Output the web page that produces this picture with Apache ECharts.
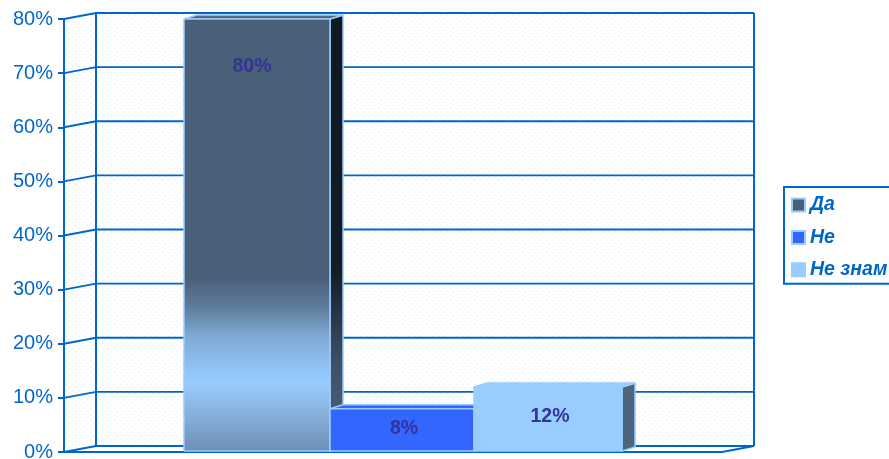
<!DOCTYPE html>
<html>
<head>
<meta charset="utf-8">
<style>html,body{margin:0;padding:0;background:#fff;overflow:hidden}#chart{width:889px;height:459px}</style>
<script src="https://cdn.jsdelivr.net/npm/echarts@6/dist/echarts.min.js"></script>
</head>
<body>
<div id="chart"></div>
<script>
// Survey answers, in percent
const categories = ['Да', 'Не', 'Не знам'];
const answerValues = [80, 8, 12];
const tickValues = [0, 10, 20, 30, 40, 50, 60, 70, 80];

// Layout of the pseudo-3D box (pixels)
const WALL_DX = 32, WALL_DY = -6;
const BAR_DX = 13, BAR_DY = -4;
const BAR_EDGES = [120, 266, 410, 558];     // bar edges measured from the axis
const LABEL_SHIFT = [[-5, null], [2, -1], [2, -2]];
const LINE = '#0066cc', RIM = '#99ccff';

// Pale dotted fill used on the walls
const dots = document.createElement('canvas');
dots.width = dots.height = 6;
const dc = dots.getContext('2d');
dc.fillStyle = '#fff'; dc.fillRect(0, 0, 6, 6);
dc.fillStyle = '#e2ebf5';
dc.fillRect(0, 0, 1, 1); dc.fillRect(3, 3, 1, 1);
const dotFill = { image: dots, repeat: 'repeat' };

const vGrad = (stops) => ({
  type: 'linear', x: 0, y: 0, x2: 0, y2: 1,
  colorStops: stops.map(([offset, color]) => ({ offset, color }))
});

const faces = [
  {
    front: vGrad([[0, '#4a5f78'], [0.6, '#4a5f78'], [0.67, '#5f7f9f'], [0.735, '#80aad6'],
                  [0.84, '#99ccff'], [0.92, '#85aed8'], [1, '#6d8fb5']]),
    top: '#55697f',
    side: vGrad([[0, '#10181f'], [0.58, '#131c24'], [0.8, '#3f5068'], [1, '#4d6680']]),
    legend: '#4a5f78', rim: RIM
  },
  { front: '#3366ff', top: '#3366ff', side: '#2a4fb8', legend: '#3366ff', rim: RIM },
  { front: '#99ccff', top: '#99ccff', side: '#4d6680', legend: '#99ccff', rim: RIM }
];

function poly(points, style) {
  return { type: 'polygon', shape: { points }, style };
}
function line(points, width) {
  return {
    type: 'polyline', shape: { points },
    style: { fill: null, stroke: LINE, lineWidth: width || 1.8 }
  };
}

// Walls, floor and receding gridlines
function renderFrame(params, api) {
  const v = api.value(0);
  const [x0, y] = api.coord([0, v]);
  const bandW = api.size([1, 0])[0];
  const left = x0 - bandW / 2, right = left + bandW;
  const children = [];
  if (params.dataIndex === 0) {
    const top = api.coord([0, tickValues[tickValues.length - 1]])[1];
    const bl = [left + WALL_DX, top + WALL_DY];
    const br = [right + WALL_DX, top + WALL_DY];
    const fl = [left + WALL_DX, y + WALL_DY];
    const fr = [right + WALL_DX, y + WALL_DY];
    children.push(poly([bl, br, fr, fl], { fill: dotFill }));
    children.push(poly([[left, top], bl, fl, [left, y]], { fill: dotFill }));
    children.push(line([[left, top], [left, y]], 2));
    children.push(line([bl, fl], 2));
    children.push(line([br, fr], 2));
    children.push(line([[left, y], [right, y], fr], 2.2));
  }
  children.push(line([[left, y], [left + WALL_DX, y + WALL_DY], [right + WALL_DX, y + WALL_DY]]));
  return { type: 'group', children };
}

// One box: side, front and top faces plus its value label
function renderBar(index) {
  return function (params, api) {
    const val = api.value(1);
    const [cx, yTop] = api.coord([0, val]);
    const yBase = api.coord([0, 0])[1] - 1;
    const left = cx - api.size([1, 0])[0] / 2;
    const a = left + BAR_EDGES[index], b = left + BAR_EDGES[index + 1];
    const f = faces[index];
    const rim = { stroke: f.rim, lineWidth: 1.5, lineJoin: 'bevel' };
    const shift = LABEL_SHIFT[index];
    const labelY = shift[1] === null ? yTop + 48 : (yTop + yBase) / 2 + shift[1];
    return {
      type: 'group',
      children: [
        poly([[b, yTop], [b + BAR_DX, yTop + BAR_DY], [b + BAR_DX, yBase + BAR_DY], [b, yBase]],
             Object.assign({ fill: f.side }, rim)),
        poly([[a, yTop], [a + BAR_DX, yTop + BAR_DY], [b + BAR_DX, yTop + BAR_DY], [b, yTop]],
             Object.assign({ fill: f.top }, rim)),
        {
          type: 'rect',
          shape: { x: a, y: yTop, width: b - a, height: yBase - yTop },
          style: Object.assign({ fill: f.front }, rim)
        },
        {
          type: 'text',
          style: {
            x: (a + b) / 2 + shift[0], y: labelY,
            text: val + '%',
            fill: '#333399',
            font: 'bold 19.5px "Liberation Sans", Arial, sans-serif',
            align: 'center', verticalAlign: 'middle'
          }
        }
      ]
    };
  };
}

const chart = echarts.init(document.getElementById('chart'), null, { renderer: 'canvas' });

chart.setOption({
  animation: false,
  backgroundColor: '#fff',
  textStyle: { fontFamily: '"Liberation Sans", Arial, sans-serif' },
  grid: { left: 64, top: 19, width: 658, height: 433, containLabel: false, outerBoundsMode: 'none' },
  xAxis: {
    type: 'category', data: [''], boundaryGap: true,
    axisLine: { show: false }, axisTick: { show: false }, axisLabel: { show: false }
  },
  yAxis: {
    type: 'value', min: 0, max: 80, interval: 10,
    axisLine: { show: true, lineStyle: { color: LINE, width: 2 } },
    axisTick: { show: true, length: 6, lineStyle: { color: LINE, width: 2 } },
    axisLabel: {
      formatter: '{value}%', color: LINE, fontSize: 20, margin: 11,
      padding: [4, 0, 0, 0],
      fontFamily: '"Liberation Sans", Arial, sans-serif'
    },
    splitLine: { show: false }
  },
  legend: {
    data: categories,
    orient: 'vertical',
    left: 784, top: 187,
    padding: [8, 60, 4, 7],
    itemGap: 12.4, itemWidth: 13, itemHeight: 13,
    icon: 'rect',
    selectedMode: false,
    backgroundColor: '#fff',
    borderColor: LINE, borderWidth: 2,
    textStyle: {
      color: LINE, fontSize: 19.5, fontStyle: 'italic', fontWeight: 'bold',
      padding: [0, 0, 0, 0],
      fontFamily: '"Liberation Sans", Arial, sans-serif'
    }
  },
  tooltip: { show: false },
  series: [
    {
      name: 'frame', type: 'custom', z: 1, silent: true,
      data: tickValues.map((v) => [v]),
      encode: { y: 0 },
      renderItem: renderFrame
    }
  ].concat(categories.map((name, i) => ({
    name, type: 'custom', z: 2 + i, silent: true,
    coordinateSystem: 'cartesian2d',
    itemStyle: { color: faces[i].legend, borderColor: RIM, borderWidth: 1.5 },
    data: [[0, answerValues[i]]],
    encode: { x: 0, y: 1 },
    renderItem: renderBar(i)
  })))
});
</script>
</body>
</html>
